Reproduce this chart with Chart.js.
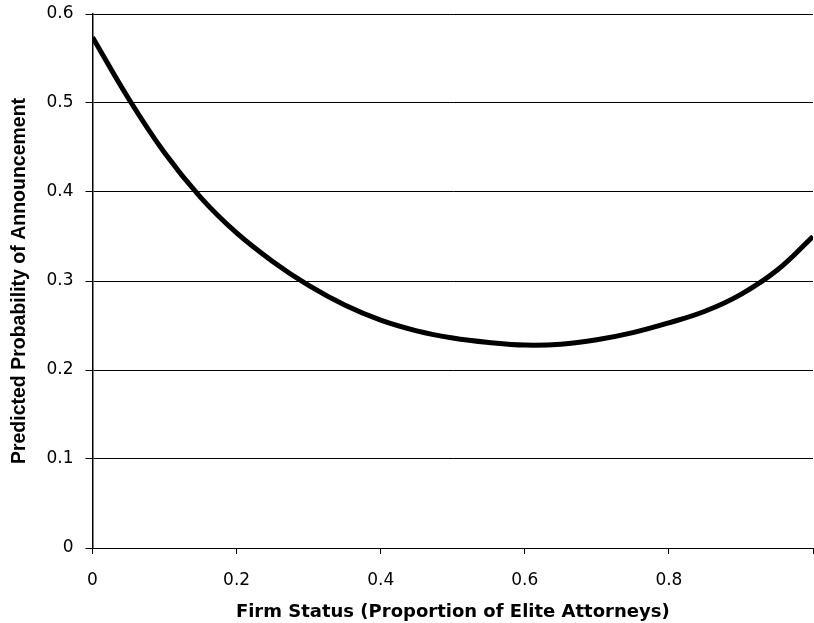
<!DOCTYPE html>
<html>
<head>
<meta charset="utf-8">
<script src="https://cdn.jsdelivr.net/npm/chart.js@4.4.1/dist/chart.umd.min.js"></script>
<style>
  html, body { margin: 0; padding: 0; background: #fff; }
  #wrap { width: 814px; height: 623px; position: relative; }
</style>
</head>
<body>
<div id="wrap"><canvas id="c" width="814" height="623"></canvas></div>
<script>
// Firm status (proportion of elite attorneys)
const firmStatus = [0, 0.05, 0.10, 0.15, 0.20, 0.25, 0.30, 0.35, 0.40, 0.45, 0.50,
                    0.55, 0.60, 0.65, 0.70, 0.75, 0.80, 0.85, 0.90, 0.95, 1.00];
// Predicted probability of announcement
const predictedProb = [0.574, 0.505, 0.444, 0.394, 0.354, 0.322, 0.295, 0.273, 0.256, 0.244, 0.236,
                       0.231, 0.228, 0.229, 0.234, 0.242, 0.253, 0.266, 0.285, 0.312, 0.350];
const xTicks = [0, 0.2, 0.4, 0.6, 0.8, 1.0];
const yTicks = [0, 0.1, 0.2, 0.3, 0.4, 0.5, 0.6];
const xTitle = 'Firm Status (Proportion of Elite Attorneys)';
const yTitle = 'Predicted Probability of Announcement';

const points = firmStatus.map((x, i) => ({ x: x, y: predictedProb[i] }));
const TICK_FONT = "'DejaVu Sans', Verdana, sans-serif";
const TITLE_FONT_X = "'DejaVu Sans', Verdana, sans-serif";
const TITLE_FONT_Y = "'Liberation Sans', Arial, Helvetica, sans-serif";

new Chart(document.getElementById('c'), {
  type: 'line',
  data: {
    datasets: [{
      data: points,
      borderColor: '#000',
      borderWidth: 5,
      pointRadius: 0,
      fill: false,
      tension: 0.4
    }]
  },
  options: {
    responsive: false,
    animation: false,
    devicePixelRatio: 1,
    layout: { padding: { top: 14, right: 1, left: 0, bottom: 0 } },
    plugins: { legend: { display: false }, tooltip: { enabled: false } },
    scales: {
      x: {
        type: 'linear',
        min: 0, max: 1,
        afterBuildTicks: (s) => { s.ticks = xTicks.map(v => ({ value: v })); },
        afterFit: (s) => { s.height = 75; s.paddingRight = 0; s.paddingLeft = 0; },
        ticks: {
          color: '#000',
          font: { family: TICK_FONT, size: 17 },
          padding: 16,
          maxRotation: 0,
          callback: (v) => (v >= 1 ? '' : String(+v.toFixed(1)))
        },
        grid: { drawOnChartArea: false, drawTicks: true, tickLength: 6, color: '#000', lineWidth: 1 },
        border: { display: true, color: '#000', width: 1 },
        title: {
          display: true, text: xTitle, color: '#000',
          font: { family: TITLE_FONT_X, size: 18, weight: 'bold' },
          padding: { top: 4, bottom: 0 }
        }
      },
      y: {
        type: 'linear',
        min: 0, max: 0.6,
        afterBuildTicks: (s) => { s.ticks = yTicks.map(v => ({ value: v })); },
        afterFit: (s) => { s.width = 92.5; s.paddingTop = 0; s.paddingBottom = 0; },
        ticks: {
          color: '#000',
          font: { family: TICK_FONT, size: 17 },
          padding: 12,
          callback: (v) => String(+v.toFixed(1))
        },
        grid: { drawOnChartArea: true, drawTicks: true, tickLength: 7, color: '#000', lineWidth: 1 },
        border: { display: true, color: '#000', width: 1.5 },
        title: {
          display: true, text: yTitle, color: '#000',
          font: { family: TITLE_FONT_Y, size: 19.5, weight: 'bold' },
          padding: { top: 8, bottom: 0 }
        }
      }
    }
  }
});
</script>
</body>
</html>
